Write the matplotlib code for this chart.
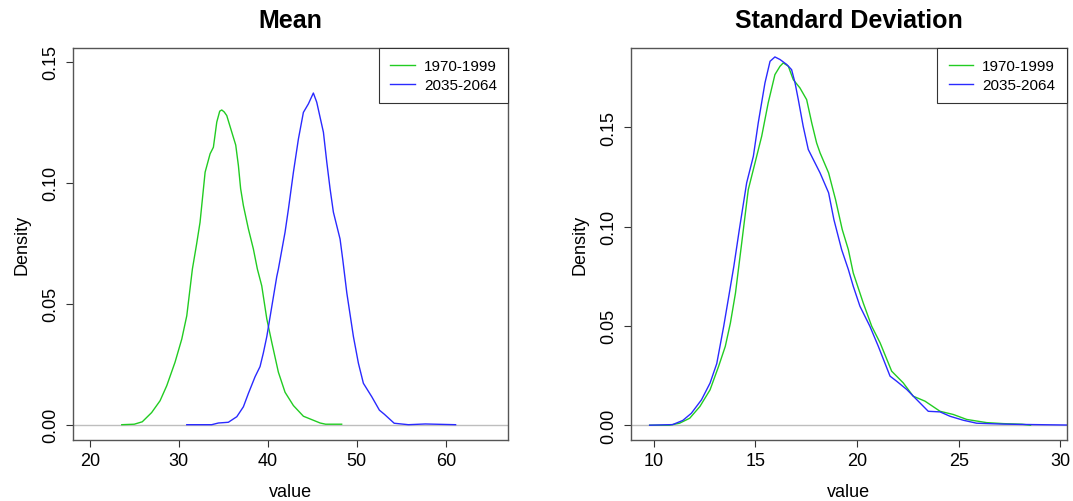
import matplotlib
matplotlib.use("Agg")
import matplotlib.pyplot as plt

plt.rcParams["font.family"] = ["Liberation Sans", "DejaVu Sans"]

# kernel density estimates, read as (value, density) pairs
mean_hist_x = [23.6, 25.0, 25.9, 26.95, 27.9, 28.65, 29.58, 30.34, 30.9, 31.53,
               32.0, 32.39, 32.96, 33.52, 33.89, 34.27, 34.6, 34.83, 35.1, 35.39,
               35.96, 36.4, 36.7, 36.95, 37.26, 37.82, 38.38, 38.83, 39.32, 39.89, 40.45,
               41.19, 41.94, 42.88, 44.0, 45.88, 46.5, 48.3]
mean_hist_y = [0.0, 0.0002, 0.0012, 0.005, 0.0099, 0.0161, 0.0258, 0.0354, 0.045, 0.0643,
               0.0745, 0.0836, 0.1043, 0.1119, 0.1146, 0.125, 0.1295, 0.130, 0.1292, 0.1277,
               0.1208, 0.1155, 0.107, 0.0975, 0.0905, 0.0809, 0.0726, 0.0643, 0.0574, 0.0437, 0.034,
               0.0217, 0.0134, 0.0079, 0.0035, 0.0007, 0.0002, 0.0002]

mean_fut_x = [30.9, 33.7, 34.45, 35.57, 36.52, 37.26, 37.82, 38.57, 39.13, 39.5,
              39.89, 40.45, 41.01, 41.19, 41.94, 42.32, 42.88, 43.44, 44.0, 44.56,
              45.12, 45.5, 46.25, 46.63, 47.0, 47.37, 48.12, 48.43, 48.88, 49.62,
              50.18, 50.74, 51.69, 52.54, 53.1, 54.2, 55.8, 57.7, 61.1]
mean_fut_y = [0.0, 0.0, 0.0007, 0.001, 0.0033, 0.0074, 0.0129, 0.0198, 0.024, 0.0296,
              0.0364, 0.0488, 0.0612, 0.0643, 0.0795, 0.0891, 0.1043, 0.118, 0.129, 0.1325,
              0.137, 0.1332, 0.1208, 0.1084, 0.0974, 0.0878, 0.0767, 0.068, 0.0544, 0.0364,
              0.0254, 0.0171, 0.0115, 0.006, 0.0043, 0.0006, 0.0, 0.0003, 0.0]

sd_hist_x = [9.8, 10.77, 11.27, 11.77, 12.27, 12.77, 13.19, 13.52, 13.77, 14.02,
             14.33, 14.65, 14.98, 15.31, 15.63, 15.96, 16.21, 16.37, 16.62, 16.86,
             17.19, 17.52, 17.77, 18.01, 18.18, 18.6, 18.94, 19.27, 19.57, 19.81,
             20.3, 20.72, 21.13, 21.7, 22.27, 22.76, 23.34, 24.08, 24.73, 25.39,
             26.37, 27.19, 28.1, 28.53]
sd_hist_y = [0.0, 0.0, 0.001, 0.0035, 0.0094, 0.0178, 0.0296, 0.0397, 0.0514, 0.0665,
             0.092, 0.1186, 0.132, 0.1455, 0.1623, 0.1765, 0.1807, 0.1824, 0.1807, 0.174,
             0.1698, 0.1639, 0.1522, 0.1421, 0.1371, 0.127, 0.1136, 0.0985, 0.0884, 0.0767,
             0.0616, 0.0498, 0.0415, 0.0272, 0.0213, 0.0146, 0.0121, 0.007, 0.0054, 0.0029,
             0.0013, 0.0008, 0.0005, 0.0]

sd_fut_x = [9.8, 10.93, 11.43, 11.85, 12.35, 12.77, 13.1, 13.44, 13.69, 13.94,
            14.21, 14.57, 14.9, 15.14, 15.47, 15.72, 15.96, 16.21, 16.54, 16.78,
            16.95, 17.11, 17.35, 17.6, 17.85, 18.18, 18.6, 18.86, 19.24, 19.57,
            19.81, 20.14, 20.63, 21.04, 21.62, 21.95, 22.44, 22.93, 23.5, 24.08,
            24.57, 25.22, 25.88, 27.03, 28.0, 31.0]
sd_fut_y = [0.0, 0.0003, 0.0024, 0.006, 0.0128, 0.0212, 0.031, 0.0497, 0.0648, 0.080,
            0.0985, 0.122, 0.1354, 0.1522, 0.1723, 0.1832, 0.1854, 0.1841, 0.1816, 0.179,
            0.1723, 0.1639, 0.1505, 0.1388, 0.1337, 0.127, 0.117, 0.1035, 0.0884, 0.0784,
            0.070, 0.0599, 0.0498, 0.0398, 0.0247, 0.0221, 0.018, 0.0129, 0.007, 0.0067,
            0.0045, 0.0025, 0.001, 0.0006, 0.0004, 0.0]

periods = ["1970-1999", "2035-2064"]
y_ticks = [0.0, 0.05, 0.10, 0.15]

GREEN = "#22cc22"
BLUE = "#2a2aff"
FRAME = "#555555"


def density_panel(ax, title, hist, fut, xlim, ylim, xticks):
    ax.axhline(0, color="#bebebe", lw=1.0, zorder=1)
    ax.plot(hist[0], hist[1], color=GREEN, lw=1.0, label=periods[0], zorder=2)
    ax.plot(fut[0], fut[1], color=BLUE, lw=1.0, label=periods[1], zorder=2)
    ax.set_xlim(*xlim)
    ax.set_ylim(*ylim)
    ax.set_xticks(xticks)
    ax.set_xticklabels([str(t) for t in xticks])
    ax.set_yticks(y_ticks)
    ax.set_yticklabels([f"{t:.2f}" for t in y_ticks], rotation=90, va="center")
    ax.tick_params(direction="out", length=5, width=0.8, color="#333333",
                   labelsize=13, pad=4)
    ax.tick_params(axis="y", pad=5)
    for sp in ax.spines.values():
        sp.set_color(FRAME)
        sp.set_linewidth(1.0)
    ax.set_title(title, fontsize=18, fontweight="bold", pad=15)
    ax.set_xlabel("value", fontsize=13, labelpad=10)
    ax.set_ylabel("Density", fontsize=13, labelpad=8)
    leg = ax.legend(loc="upper right", borderaxespad=0, fontsize=11,
                    handlelength=1.6, handletextpad=0.6, borderpad=0.75,
                    labelspacing=0.3, fancybox=False, framealpha=1)
    leg.get_frame().set_edgecolor("#333333")
    leg.get_frame().set_linewidth(0.8)


fig = plt.figure(figsize=(10.73, 5.02), dpi=100)
ax1 = fig.add_axes([0.0678, 0.1221, 0.406, 0.7803])
ax2 = fig.add_axes([0.588, 0.1221, 0.4062, 0.7803])

density_panel(ax1, "Mean", (mean_hist_x, mean_hist_y), (mean_fut_x, mean_fut_y),
              (18.09, 67.03), (-0.0062, 0.1556), [20, 30, 40, 50, 60])
density_panel(ax2, "Standard Deviation", (sd_hist_x, sd_hist_y), (sd_fut_x, sd_fut_y),
              (8.88, 30.31), (-0.0073, 0.1899), [10, 15, 20, 25, 30])

fig.savefig("out.png", dpi=100)
